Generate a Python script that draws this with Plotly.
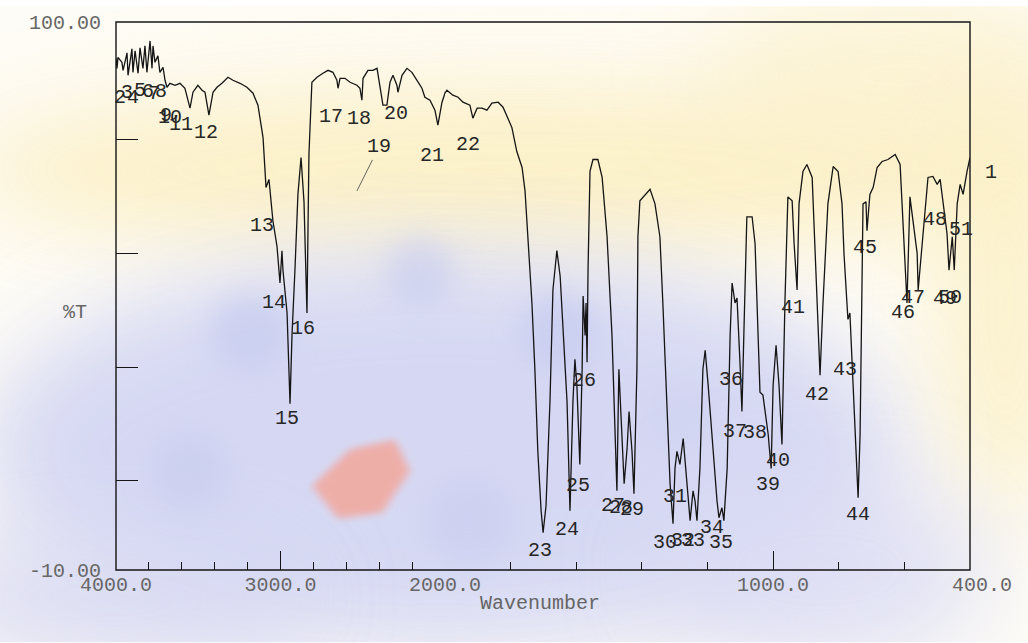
import base64
import plotly.graph_objects as go

# ---------------- data ----------------
wavenumber = [
    4000, 3994, 3988, 3964, 3957, 3933, 3927, 3903, 3897, 3884, 3866, 3854, 3836, 3824, 3812, 3793,
    3781, 3775, 3763, 3745, 3733, 3714, 3702, 3690, 3672, 3641, 3611, 3581, 3550, 3532, 3502, 3477,
    3459, 3435, 3410, 3386, 3356, 3319, 3289, 3246, 3204, 3167, 3137, 3106, 3088, 3070, 3046, 3021,
    3003, 2991, 2985, 2960, 2942, 2930, 2912, 2894, 2875, 2857, 2839, 2827, 2809, 2778, 2742, 2711,
    2681, 2657, 2650, 2638, 2608, 2577, 2535, 2517, 2505, 2498, 2468, 2438, 2413, 2395, 2377, 2353,
    2334, 2316, 2292, 2286, 2261, 2231, 2201, 2170, 2140, 2122, 2091, 2061, 2043, 2018,
    1994, 1976, 1960, 1945, 1924, 1915, 1902, 1887, 1872, 1857, 1838, 1823, 1808, 1796, 1781, 1765,
    1756, 1747, 1735, 1726, 1717, 1707, 1701, 1692, 1686, 1680, 1671, 1659, 1649, 1640, 1628, 1619,
    1610, 1604, 1598, 1589, 1582, 1579, 1573, 1570, 1567, 1564, 1558, 1549, 1534, 1521, 1506, 1491,
    1482, 1476, 1470, 1460, 1454, 1445, 1439, 1430, 1424, 1415, 1412, 1406, 1396, 1375, 1360, 1345,
    1336, 1324, 1314, 1305, 1299, 1293, 1284, 1274, 1262, 1253, 1244, 1238, 1232, 1223, 1214, 1207,
    1198, 1183, 1171, 1165, 1156, 1150, 1140, 1131, 1125, 1116, 1110, 1101, 1095, 1089, 1080, 1064,
    1055, 1040, 1031, 1015, 1006, 1000, 991, 982, 973, 964, 955, 942, 936, 927, 921, 909,
    897, 881, 872, 863, 857, 848, 833, 817, 802, 790, 784, 775, 772, 766, 763, 756,
    747, 741, 735, 729, 726, 717, 714, 705, 695, 683, 668, 650, 628, 613, 604, 595,
    592, 583, 573, 561, 558, 546, 528, 513, 500, 491, 482, 470, 464, 454, 448, 439,
    430, 421, 409, 400,
]
transmittance = [
    92.7, 90.7, 92.9, 91.9, 90.3, 93.8, 89.3, 94.6, 89.9, 94.2, 89.7, 94.8, 90.7, 95.2, 89.9, 96.2,
    90.7, 95.2, 91.9, 93.2, 89.9, 90.9, 88.3, 86.9, 87.7, 87.3, 87.7, 86.7, 82.7, 85.9, 87.3, 86.3,
    85.9, 81.3, 85.9, 86.9, 87.7, 88.9, 88.3, 87.7, 86.9, 85.7, 83.3, 76.8, 66.8, 68.4, 60.1, 54.9,
    47.6, 54.1, 50.2, 41.6, 23.4, 37.1, 50.2, 65.4, 72.8, 63.9, 41.6, 73.4, 87.9, 88.9, 89.7, 90.3,
    89.9, 88.3, 86.7, 88.7, 88.7, 87.9, 87.3, 86.7, 84.3, 88.7, 90.3, 90.3, 90.7, 86.7, 83.3, 83.3,
    87.9, 89.3, 87.3, 85.9, 89.3, 90.7, 89.9, 88.3, 86.7, 84.9, 84.3, 82.3, 79.3, 83.9,
    86.3, 85.3, 84.9, 83.9, 83.3, 80.7, 82.7, 82.7, 82.3, 83.7, 83.9, 82.9, 80.7, 78.8, 74.0, 70.8,
    66.1, 56.9, 43.6, 30.3, 13.8, 1.9, -2.5, 2.9, 13.8, 23.8, 46.2, 54.1, 49.0, 37.1, 23.8, 1.9,
    23.8, 32.3, 27.1, 11.2, 30.3, 45.0, 37.1, 43.6, 31.7, 50.2, 70.0, 72.4, 72.4, 68.8, 56.9, 37.1,
    20.4, 5.9, 30.3, 17.2, 7.3, 14.4, 21.8, 13.8, 5.3, 30.3, 56.9, 64.1, 64.9, 66.4, 63.5, 56.9,
    43.6, 23.8, 7.3, -0.7, 10.4, 13.8, 11.2, 16.4, 7.3, -0.1, 5.9, 3.9, -0.1, 10.4, 30.3, 34.1,
    27.1, 13.8, 3.9, 0.5, 2.5, -0.1, 10.4, 37.1, 47.6, 43.6, 44.6, 31.7, 21.8, 37.7, 60.9, 60.9,
    55.5, 25.7, 25.1, 17.2, 10.4, 27.1, 35.1, 27.1, 15.2, 43.6, 64.9, 64.1, 55.5, 46.2, 63.5, 70.0,
    71.4, 68.8, 53.5, 37.1, 29.1, 43.6, 63.5, 71.0, 70.0, 63.5, 53.5, 43.6, 40.3, 41.6, 37.1, 23.8,
    10.4, 4.5, 17.2, 43.6, 63.5, 63.9, 58.1, 65.4, 66.8, 70.8, 72.0, 72.4, 73.4, 71.4, 60.1, 50.2,
    43.6, 64.9, 60.1, 53.5, 46.2, 55.5, 68.8, 69.0, 67.4, 68.4, 64.1, 57.5, 50.2, 56.9, 50.2, 63.5,
    67.4, 65.4, 70.0, 72.8,
]
assert len(wavenumber) == len(transmittance)

# peak labels: number, wavenumber position, %T position of the printed number
peak_ids = list(range(1, 52))
peak_wn = [336, 3976, 3933, 3897, 3854, 3805, 3769, 3726, 3696, 3672, 3605, 3453, 3112, 3039, 2960,
           2863, 2693, 2523, 2401, 2298, 2079, 1930, 1710, 1628, 1595, 1576, 1488, 1464, 1430, 1329,
           1299, 1275, 1244, 1186, 1159, 1128, 1116, 1055, 1015, 985, 939, 866, 781, 741, 720,
           604, 573, 506, 476, 461, 427]
peak_t = [69.8, 84.9, 85.9, 84.9, 86.3, 86.1, 85.7, 86.1, 81.3, 80.9, 79.5, 77.9, 59.1, 43.6, 20.4,
          38.4, 81.1, 80.7, 74.8, 81.7, 73.2, 75.4, -6.0, -1.9, 6.9, 28.1, 2.9, 2.5, 2.1, -4.4,
          4.7, -4.1, -4.1, -1.5, -4.4, 28.3, 17.8, 17.6, 7.1, 12.0, 42.6, 25.3, 30.3, 1.1, 54.7,
          41.6, 44.8, 60.3, 44.4, 44.6, 58.3]
leader_19 = (2535, 66.1)   # end of the dotted leader drawn from label 19

x_major_hi = [4000, 3000, 2000]
x_major_lo = [1000, 400]
x_major_hi_text = ["4000.0", "3000.0", "2000.0"]
x_major_lo_text = ["1000.0", "\u00a0\u00a0400.0"]
y_minor_ticks = [7.9, 30.7, 53.5, 76.4]
y_labels = [100, -10]
y_labels_text = ["100.00", "-10.00"]

# ---------------- layout geometry ----------------
W, H = 1028, 643
ML, MR, MT, MB = 116, 58, 16, 73
PW, PH = W - ML - MR, H - MT - MB
split = 0.3852  # 4000-2000 part of the compressed wavenumber scale
X_LO_MIN = 400  # right end of the lower-wavenumber axis
X_LO_MAX = 2000
Y_MIN, Y_MAX = -10, 100

MONO = "Liberation Mono, DejaVu Sans Mono, monospace"

# split the spectrum into the two scale regions (one overlap point each side)
idx_lo = next(i for i, w in enumerate(wavenumber) if w < 2000)
hi_x, hi_y = wavenumber[:idx_lo + 1], transmittance[:idx_lo + 1]
lo_x, lo_y = wavenumber[idx_lo - 1:], transmittance[idx_lo - 1:]

fig = go.Figure()
line = dict(color="#151515", width=1.3)
fig.add_trace(go.Scatter(x=hi_x, y=hi_y, mode="lines", line=line, xaxis="x", yaxis="y",
                         showlegend=False, hoverinfo="x+y"))
fig.add_trace(go.Scatter(x=lo_x, y=lo_y, mode="lines", line=line, xaxis="x2", yaxis="y",
                         showlegend=False, hoverinfo="x+y"))

# ---------------- faint scanned-paper watermark background ----------------
svg = f'''<svg xmlns="http://www.w3.org/2000/svg" width="{W}" height="{H}" viewBox="0 0 {W} {H}">
<defs>
<filter id="b1" x="-50%" y="-50%" width="200%" height="200%"><feGaussianBlur stdDeviation="45"/></filter>
<filter id="b2" x="-50%" y="-50%" width="200%" height="200%"><feGaussianBlur stdDeviation="14"/></filter>
<filter id="b3" x="-50%" y="-50%" width="200%" height="200%"><feGaussianBlur stdDeviation="4"/></filter>
</defs>
<rect width="{W}" height="{H}" fill="#fefcf6"/>
<ellipse cx="520" cy="165" rx="560" ry="85" fill="#fbeec0" opacity="0.85" filter="url(#b1)"/>
<ellipse cx="900" cy="70" rx="200" ry="80" fill="#fbf0c8" opacity="0.7" filter="url(#b1)"/>
<ellipse cx="1005" cy="300" rx="70" ry="220" fill="#fbefc2" opacity="0.8" filter="url(#b1)"/>
<ellipse cx="440" cy="450" rx="460" ry="200" fill="#d4d7f3" opacity="0.95" filter="url(#b1)"/>
<ellipse cx="820" cy="570" rx="170" ry="100" fill="#dadbf4" opacity="0.8" filter="url(#b1)"/>
<ellipse cx="110" cy="600" rx="200" ry="70" fill="#d6d8f3" opacity="0.8" filter="url(#b1)"/>
<circle cx="250" cy="330" r="40" fill="#c4c9ef" opacity="0.6" filter="url(#b2)"/>
<circle cx="420" cy="270" r="35" fill="#c7ccef" opacity="0.6" filter="url(#b2)"/>
<circle cx="560" cy="330" r="40" fill="#c4c9ef" opacity="0.6" filter="url(#b2)"/>
<circle cx="190" cy="470" r="40" fill="#c7ccef" opacity="0.6" filter="url(#b2)"/>
<circle cx="470" cy="520" r="45" fill="#c9cdf0" opacity="0.6" filter="url(#b2)"/>
<circle cx="680" cy="420" r="35" fill="#cdd0f0" opacity="0.5" filter="url(#b2)"/>
<polygon points="312,485 350,448 395,438 410,470 382,512 338,518" fill="#f3a79c" opacity="0.85" filter="url(#b3)"/>
</svg>'''
bg_uri = "data:image/svg+xml;base64," + base64.b64encode(svg.encode()).decode()

fig.add_layout_image(dict(source=bg_uri, xref="paper", yref="paper",
                          x=-ML / PW, y=1 + MT / PH, sizex=W / PW, sizey=H / PH,
                          xanchor="left", yanchor="top", sizing="stretch", layer="below"))

# ---------------- annotations: peak numbers ----------------
ann = []
lab_font = dict(family=MONO, size=20, color="#262626")
lo_span = (1 - split) / (X_LO_MAX - X_LO_MIN)
for pid, pw, pt in zip(peak_ids, peak_wn, peak_t):
    if pid == 19:
        ann.append(dict(x=leader_19[0], y=leader_19[1], xref="x", yref="y", text=str(pid),
                        showarrow=True, arrowhead=0, arrowwidth=0.9, arrowcolor="#555",
                        ax=22, ay=-44, font=lab_font))
    elif pw < X_LO_MIN:
        # printed just outside the right frame: place by the lower axis scale in paper units
        xp = split + (X_LO_MAX - pw) * lo_span
        yp = (pt - Y_MIN) / (Y_MAX - Y_MIN)
        ann.append(dict(x=xp, y=yp, xref="paper", yref="paper", text=str(pid),
                        showarrow=False, xanchor="center", yanchor="middle", font=lab_font))
    else:
        xr = "x" if pw >= 2000 else "x2"
        ann.append(dict(x=pw, y=pt, xref=xr, yref="y", text=str(pid), showarrow=False,
                        xanchor="center", yanchor="middle", font=lab_font))

axis_font = dict(family=MONO, size=20, color="#666666")
ann.append(dict(x=-41 / PW, y=0.47, xref="paper", yref="paper", text="%T", showarrow=False,
                xanchor="center", yanchor="middle", font=axis_font))
ann.append(dict(x=0.4965, y=-0.061, xref="paper", yref="paper", text="Wavenumber",
                showarrow=False, xanchor="center", yanchor="middle", font=axis_font))

common_x = dict(showgrid=False, zeroline=False, showline=False, ticks="inside", ticklen=19,
                tickwidth=1.3, tickcolor="#151515", tickfont=axis_font,
                minor=dict(ticks="inside", ticklen=8, tickwidth=1.2, tickcolor="#151515",
                           dtick=200, tick0=0, showgrid=False))

fig.update_layout(
    width=W, height=H,
    margin=dict(l=ML, r=MR, t=MT, b=MB),
    paper_bgcolor="white", plot_bgcolor="rgba(0,0,0,0)",
    xaxis=dict(domain=[0, split], range=[4000, 2000], anchor="y", tickmode="array",
               tickvals=x_major_hi, ticktext=x_major_hi_text, **common_x),
    xaxis2=dict(domain=[split, 1], range=[X_LO_MAX, X_LO_MIN], anchor="y", tickmode="array",
                tickvals=x_major_lo, ticktext=x_major_lo_text, **common_x),
    yaxis=dict(domain=[0, 1], range=[Y_MIN, Y_MAX], anchor="x", showgrid=False, zeroline=False,
               showline=False, tickmode="array", tickvals=y_labels, ticktext=y_labels_text,
               ticks="", tickfont=axis_font, ticklabelstandoff=14,
               minor=dict(tickmode="array", tickvals=y_minor_ticks, ticks="inside", ticklen=22,
                          tickwidth=1.3, tickcolor="#151515", showgrid=False)),
    annotations=ann,
    shapes=[dict(type="rect", xref="paper", yref="paper", x0=0, y0=0, x1=1, y1=1,
                 line=dict(color="#151515", width=1.4), layer="above")],
    showlegend=False,
)

fig.write_html("out.html")
